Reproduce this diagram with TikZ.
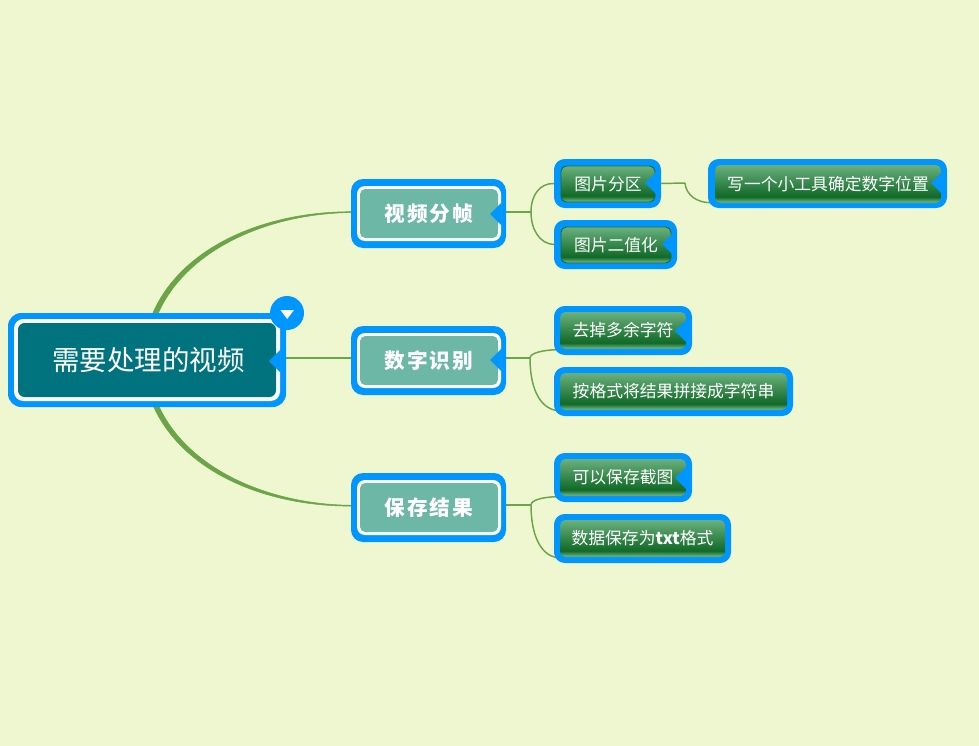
\documentclass[tikz,border=0pt]{standalone}
\usepackage{fontspec}
\setmainfont{Noto Sans CJK SC}
\usetikzlibrary{backgrounds}
\definecolor{bgc}{HTML}{EEF7CF}
\definecolor{bluec}{HTML}{0096FF}
\definecolor{linec}{HTML}{6CA548}
\definecolor{rootc}{HTML}{00737F}
\definecolor{subc}{HTML}{6CB7A6}
\definecolor{leaflight}{HTML}{6AB07E}
\definecolor{leaflow}{HTML}{62AB76}
\definecolor{leafdark}{HTML}{146C2A}
\definecolor{leafedge}{HTML}{1E6B33}
\pgfdeclareverticalshading{leafgrad}{100bp}{color(0bp)=(leaflow); color(27bp)=(leaflow); color(33bp)=(leafdark); color(35bp)=(leafdark); color(75bp)=(leaflight); color(100bp)=(leaflight)}
\tikzset{
  plate/.style={rectangle,inner sep=0pt,outer sep=0pt,fill=bluec,text=white},
  rootouter/.style={plate,rounded corners=10pt},
  rootring/.style={plate,fill=white,rounded corners=7pt},
  rootface/.style={plate,fill=rootc,rounded corners=5pt,font=\fontsize{20.6pt}{24pt}\selectfont},
  subouter/.style={plate,rounded corners=9pt},
  subring/.style={plate,fill=white,rounded corners=6pt},
  subface/.style={plate,fill=subc,rounded corners=4pt,font=\fontsize{15.5pt}{18pt}\selectfont\bfseries},
  leafouter/.style={plate,rounded corners=8pt},
  leafface/.style={plate,fill=none,shading=leafgrad,rounded corners=4pt,font=\fontsize{12.6pt}{15pt}\selectfont},
  leafmark/.style={leafface,draw=leafedge,line width=0.7pt},
  wire/.style={draw=linec,line width=1.1pt},
  taper/.style={fill=linec,draw=linec,line width=0.4pt},
  notch/.style={fill=bluec},
  toggle/.style={circle,fill=bluec,inner sep=0pt,minimum size=25.5pt},
}
% style, name, x1, y1, x2, y2, text
\newcommand\bx[7]{%
  \pgfmathsetmacro\bxw{(#5-#3)*0.75}\pgfmathsetmacro\bxh{(#6-#4)*0.75}%
  \pgfmathsetmacro\bxx{(#3+#5)/2}\pgfmathsetmacro\bxy{(#4+#6)/2}%
  \node[#1,minimum width=\bxw pt,minimum height=\bxh pt] (#2) at (\bxx,\bxy) {#7};}
\newcommand\nt[3]{\fill[notch] (#1,#2) -- ({#1+11.5},{#2-11.5}) -- ({#1+11.5},{#2+11.5}) -- cycle;}
\begin{document}
\begin{tikzpicture}[x=0.75pt,y=-0.75pt]
\useasboundingbox (0,0) rectangle (979,746);
% root
\bx{rootouter}{rootO}{8}{313}{286}{407}{}
\bx{rootring}{rootR}{14}{319}{280}{401}{}
\bx{rootface}{root}{18}{323}{276}{397}{\hspace{2pt}需要处理的视频}
\nt{269}{361}{}
\node[toggle] (btn) at (287,313) {};
\fill[white] (280.5,310) -- (294,310) -- (287.2,319) -- cycle;
% level one
\bx{subouter}{vO}{351}{179}{506}{248}{}
\bx{subring}{vR}{357}{186}{501}{241}{}
\bx{subface}{v}{360}{189}{498}{238}{视\hspace{1.4pt}频\hspace{1.4pt}分\hspace{1.4pt}帧}
\nt{490}{214}{}
\bx{subouter}{dO}{351}{326}{506}{395}{}
\bx{subring}{dR}{357}{333}{501}{388}{}
\bx{subface}{d}{360}{336}{498}{385}{数\hspace{1.4pt}字\hspace{1.4pt}识\hspace{1.4pt}别}
\nt{490}{360}{}
\bx{subouter}{sO}{351}{473}{506}{542}{}
\bx{subring}{sR}{357}{480}{501}{535}{}
\bx{subface}{s}{360}{483}{498}{532}{保\hspace{1.4pt}存\hspace{1.4pt}结\hspace{1.4pt}果}
% leaves
\bx{leafouter}{aO}{554}{159}{661}{208}{}
\bx{leafmark}{a}{561}{166}{655}{202}{图片分区}
\nt{645}{183}{}
\bx{leafouter}{bO}{554}{220}{677}{269}{}
\bx{leafmark}{b}{561}{227}{671}{263}{图片二值化}
\nt{662}{244}{}
\bx{leafouter}{cO}{708}{159}{947}{208}{}
\bx{leafface}{c}{715}{165}{941}{203}{写一个小工具确定数字位置}
\nt{931}{183}{}
\bx{leafouter}{eO}{554}{306}{692}{355}{}
\bx{leafface}{e}{560}{312}{686}{349}{去掉多余字符}
\nt{675}{331}{}
\bx{leafouter}{fO}{554}{367}{793}{416}{}
\bx{leafface}{f}{560}{373}{787}{410}{按格式将结果拼接成字符串}
\bx{leafouter}{gO}{554}{453}{692}{502}{}
\bx{leafface}{g}{560}{459}{686}{496}{可以保存截图}
\nt{675}{478}{}
\bx{leafouter}{hO}{554}{514}{731}{563}{}
\bx{leafface}{h}{560}{520}{725}{557}{数据保存为\textbf{txt}格式}
% connectors
\begin{scope}[on background layer]
\fill[bgc] (0,0) rectangle (979,746);
\coordinate (ja) at (531,212);
\coordinate (jd) at (530,358);
\coordinate (js) at (531,505);
\coordinate (jc) at (685,183);
\coordinate (rt1) at (150,320);
\coordinate (rt2) at (155.5,320);
\coordinate (rb1) at (150,398);
\coordinate (rb2) at (155.5,398);
\coordinate (vin) at (352,211.7);
\coordinate (vin2) at (352,212.5);
\coordinate (sin) at (352,505.3);
\coordinate (sin2) at (352,506.1);
\path[taper] (rt1) .. controls (176,250) and (260,211.5) .. (vin) -- (vin2) .. controls (262,213.5) and (180,254) .. (rt2) -- cycle;
\path[taper] (rb1) .. controls (176,468) and (260,506.5) .. (sin2) -- (sin) .. controls (262,504.5) and (180,464) .. (rb2) -- cycle;
\draw[wire] (rootO.east |- jd) -- (dO.west |- jd);
\draw[wire] (vO.east |- ja) -- (ja);
\draw[wire] (ja) .. controls (531,195) and (540,183) .. (aO.west);
\draw[wire] (ja) .. controls (531,230) and (540,244) .. (bO.west);
\draw[wire] (aO.east) -- (jc);
\draw[wire] (jc) .. controls (686,195) and (697,203) .. ([xshift=2.5pt,yshift=4pt]cO.south west);
\draw[wire] (dO.east |- jd) -- (jd);
\draw[wire] (jd) .. controls (530,353) and (543,350) .. ([xshift=2.5pt,yshift=4pt]eO.south west);
\draw[wire] (jd) .. controls (530,385) and (538,408) .. ([xshift=2.5pt,yshift=4pt]fO.south west);
\draw[wire] (sO.east |- js) -- (js);
\draw[wire] (js) .. controls (531,500) and (543,497) .. ([xshift=2.5pt,yshift=4pt]gO.south west);
\draw[wire] (js) .. controls (531,532) and (539,555) .. ([xshift=2.5pt,yshift=4pt]hO.south west);
\end{scope}
\end{tikzpicture}
\end{document}
